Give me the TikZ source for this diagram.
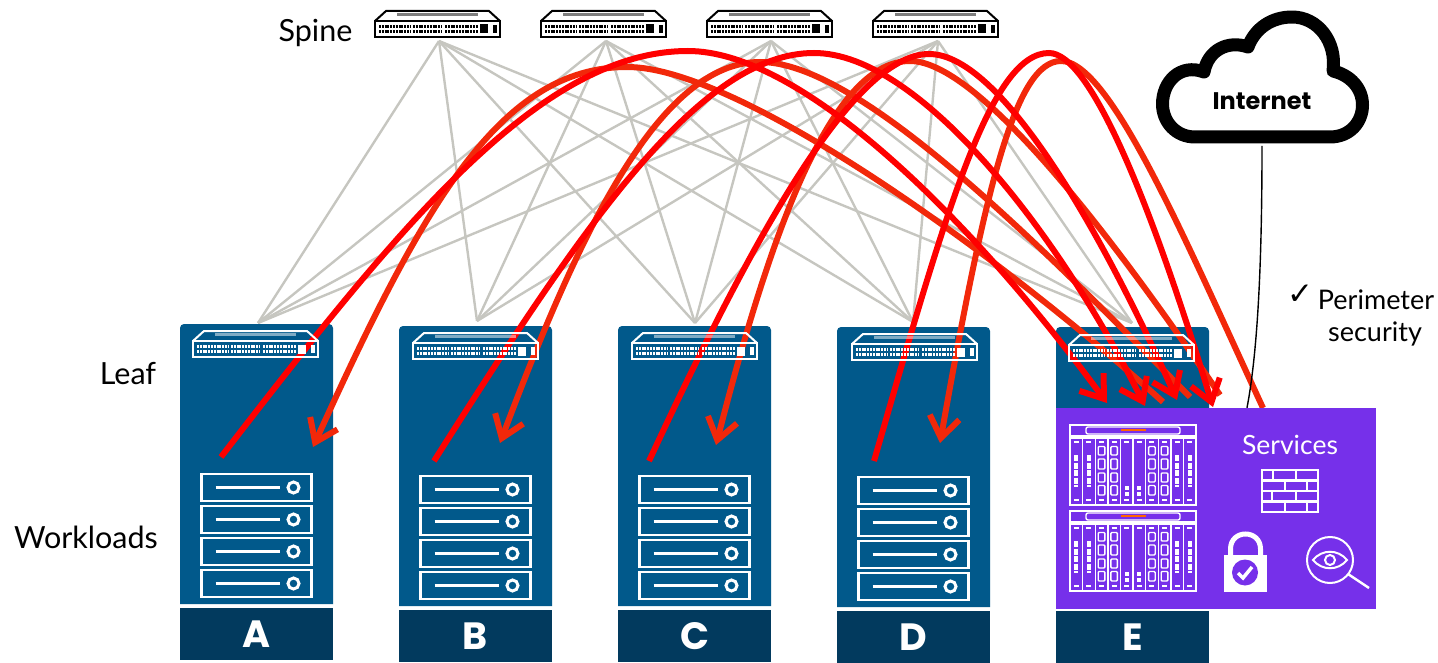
\documentclass[tikz,border=0pt]{standalone}
\usepackage{fontspec}
\setmainfont{Lato}
\newfontfamily\tagfont{Poppins}
\newfontfamily\symfont{DejaVu Sans}
\usetikzlibrary{arrows.meta}
\definecolor{rackblue}{HTML}{01598B}
\definecolor{tagblue}{HTML}{023A5E}
\definecolor{servpurple}{HTML}{7630EA}
\definecolor{fabricgrey}{HTML}{C6C6C0}
\definecolor{flowred}{HTML}{FF0000}
\definecolor{floworange}{HTML}{F2280A}
\tikzset{
    fabric/.style={fabricgrey, line width=2.4pt},
    flowout/.style={flowred, line width=6pt},
    flowback/.style={floworange, line width=6pt},
    flowtip/.style={-{Straight Barb[length=21pt,width=30pt,line width=6pt]}},
    sidelabel/.style={font=\fontsize{30.5}{34}\selectfont, inner sep=0pt},
    racktag/.style={fill=tagblue, text=white, minimum width=153pt, minimum height=52pt, inner sep=0pt, font=\fontsize{38}{40}\selectfont\tagfont\bfseries},
    pics/switch/.style={code={
        \draw[#1, line width=2pt] (0,11) rectangle (125,27);
        \draw[#1, line width=2pt] (0,11) -- (11,1) -- (114,1) -- (125,11);
        \draw[#1, opacity=.5, line width=2.5pt] (22,4.5) -- (103,4.5);
        \foreach \r in {16.5,21.5} {
            \draw[#1, line width=3.5pt, dash pattern=on 2pt off .8pt] (4,\r) -- (36,\r);
            \draw[#1, line width=3.5pt, dash pattern=on 2pt off .8pt] (38,\r) -- (67,\r);
            \draw[#1, line width=3.5pt, dash pattern=on 2pt off .8pt] (70,\r) -- (103,\r);
        }
        \fill[#1] (105,14.5) rectangle (113,23.5);
        \fill[#1] (118,15) rectangle (122,23);
    }},
    pics/server/.style={code={
        \draw[white, line width=2.4pt] (0,0) rectangle (110,27);
        \draw[white, line width=2.4pt] (14,13.5) -- (78,13.5);
        \draw[white, line width=3pt] (92,13.5) circle[radius=5.5];
    }},
    pics/chassis/.style={code={
        \draw[white, line width=1.6pt] (0,0) rectangle (126,11);
        \draw[white, line width=1.4pt, rounded corners=2pt] (16,2) rectangle (110,9);
        \draw[orange!80!red, line width=1.8pt] (51,5) -- (76,5);
        \draw[white, line width=1.8pt] (0,13) rectangle (126,80);
        \foreach \s in {1,...,9}
            \draw[white, line width=1.4pt] (12.6*\s,13) -- (12.6*\s,80);
        \foreach \s in {0,...,9} {
            \draw[white, line width=1.4pt] (3.8+12.6*\s,17) -- (8.8+12.6*\s,17);
            \draw[white, line width=1.4pt] (3.8+12.6*\s,75) -- (8.8+12.6*\s,75);
        }
        \foreach \s in {0,1,8,9}
            \draw[white, line width=4pt, dash pattern=on 6pt off 1.5pt] (6.3+12.6*\s,30) -- (6.3+12.6*\s,62);
        \foreach \s in {2,3,6,7}
            \foreach \t/\b in {21.5/30,34/44,48/57,60.5/70}
                \draw[white, line width=1.4pt, rounded corners=1pt] (3+12.6*\s,\t) rectangle (9.6+12.6*\s,\b);
        \foreach \s in {4,5}
            \foreach \t in {63,69}
                \fill[white] (4.3+12.6*\s,\t-2) rectangle (8.3+12.6*\s,\t+2);
    }}
}
\begin{document}
\begin{tikzpicture}[x=1pt,y=-1pt]
    \useasboundingbox (0,0) rectangle (1438,663);

    % fabric
    \coordinate (spine1) at (439,41);
    \coordinate (spine2) at (606,41);
    \coordinate (spine3) at (771,41);
    \coordinate (spine4) at (938,41);
    \coordinate (leafA) at (258,323);
    \coordinate (leafB) at (477,321);
    \coordinate (leafC) at (695,323);
    \coordinate (leafD) at (913,322);
    \coordinate (leafE) at (1132,323);
    \foreach \s in {1,2,3,4}
        \foreach \l in {A,B,C,D,E}
            \draw[fabric] (spine\s) -- (leaf\l);

    \foreach \x in {375,541,707,873}
        \path (\x,10) pic {switch=black};

    % racks
    \foreach \n/\x/\y in {A/180/324,B/399/326,C/618/326,D/837/327,E/1056/327} {
        \fill[rackblue, rounded corners=4pt] (\x,\y+280) [sharp corners] -- (\x,\y+280) [rounded corners=4pt] -- (\x,\y) -- (\x+153,\y) [sharp corners] -- (\x+153,\y+280) -- cycle;
        \node[racktag] (tag\n) at (\x+76.5,\y+310) {\n};
        \foreach \i in {0,1,2,3}
            \path (\x+21.5,\y+150+32*\i) pic {server};
    }

    % flows
    \coordinate (outA) at (221,457);
    \coordinate (outB) at (434,461);
    \coordinate (outC) at (649,461);
    \coordinate (outD) at (874,461);
    \coordinate (inA) at (1107,403);
    \coordinate (inB) at (1145,406);
    \coordinate (inC) at (1177,400);
    \coordinate (inD) at (1213,407);
    \coordinate (backA) at (1163,402);
    \coordinate (backB) at (1190,397);
    \coordinate (backC) at (1220,395);
    \coordinate (backD) at (1263,408);
    \coordinate (tipA) at (313,447);
    \coordinate (tipB) at (500,443);
    \coordinate (tipC) at (716,445);
    \coordinate (tipD) at (940,443);

    \draw[flowback, flowtip] (backA) .. controls (1000,255) and (740,67) .. (627,67) .. controls (500,67) and (423,205) .. (tipA);
    \draw[flowback, flowtip] (backB) .. controls (1040,245) and (860,62) .. (760,62) .. controls (660,62) and (580,230) .. (tipB);
    \draw[flowback, flowtip] (backC) .. controls (1135,270) and (985,61) .. (910,61) .. controls (835,61) and (775,215) .. (tipC);
    \draw[flowback, flowtip] (backD) .. controls (1185,240) and (1110,61) .. (1061,61) .. controls (1015,61) and (985,190) .. (tipD);
    \draw[flowout, flowtip] (outA) .. controls (400,225) and (540,51) .. (688,51) .. controls (800,51) and (967,213) .. (inA);
    \draw[flowout, flowtip] (outB) .. controls (584,224) and (700,53) .. (814,53) .. controls (920,53) and (1060,235) .. (inB);
    \draw[flowout, flowtip] (outC) .. controls (745,255) and (850,54) .. (929,54) .. controls (1005,54) and (1110,250) .. (inC);
    \draw[flowout, flowtip] (outD) .. controls (945,215) and (990,53) .. (1049,53) .. controls (1090,53) and (1150,200) .. (inD);

    \foreach \x/\y in {193/330,413/332,632/332,852/333,1069/334}
        \path (\x,\y) pic {switch=white};

    % internet
    \draw[line width=13pt, line join=round] (1195,137) -- (1330,137) .. controls (1350,137) and (1362.5,122) .. (1362.5,105) .. controls (1362.5,88) and (1350,75) .. (1333,71) .. controls (1337,42) and (1318,17) .. (1292,17) .. controls (1272,17) and (1255,28) .. (1248,47) .. controls (1228,40) and (1208,50) .. (1204,72) .. controls (1180,63) and (1162.5,82) .. (1162.5,104) .. controls (1162.5,122) and (1176,137) .. (1195,137) -- cycle;
    \node[inner sep=0pt, font=\fontsize{24}{30}\selectfont\tagfont\bfseries] (internet) at (1262,101) {Internet};
    \coordinate (cloudfoot) at (1262,146);

    % services
    \node[fill=servpurple, minimum width=320pt, minimum height=201pt, inner sep=0pt] (services) at (1216,508.5) {};
    \draw[line width=1.4pt] (cloudfoot) .. controls (1262,260) and (1258,350) .. ([xshift=31pt]services.north);
    \path (1070,425) pic {chassis};
    \path (1070,511) pic {chassis};
    \node[sidelabel, text=white, font=\fontsize{26.5}{30}\selectfont] (servicename) at (1290,445) {Services};

    \draw[white, line width=2.2pt] (1262,470) rectangle (1318,512);
    \foreach \r in {480.5,491,501.5}
        \draw[white, line width=2.2pt] (1262,\r) -- (1318,\r);
    \foreach \x/\t/\b in {1273/470/480.5,1296/470/480.5,1285/480.5/491,1307/480.5/491,1272/491/501.5,1296/491/501.5,1285/501.5/512,1307/501.5/512}
        \draw[white, line width=2.2pt] (\x,\t) -- (\x,\b);

    \fill[white] (1224,555) rectangle (1267,592);
    \draw[white, line width=5pt] (1230.5,556) -- (1230.5,549) .. controls (1230.5,529) and (1260.5,529) .. (1260.5,549) -- (1260.5,556);
    \fill[servpurple] (1245,572.5) circle[radius=13];
    \draw[white, line width=3.5pt] (1238,573) -- (1243,578) -- (1252,567);

    \draw[white, line width=2pt] (1330,560) circle[radius=23];
    \draw[white, line width=2.4pt] (1348,574) -- (1369,588);
    \draw[white, line width=2pt] (1313,560) .. controls (1322,549) and (1338,549) .. (1347,560) .. controls (1338,571) and (1322,571) .. cycle;
    \draw[white, line width=2pt] (1330,560) circle[radius=5];

    % labels
    \node[sidelabel] (spinelabel) at (315.5,33) {Spine};
    \node[sidelabel] (leaflabel) at (128,374) {Leaf};
    \node[sidelabel] (workloadlabel) at (86,537) {Workloads};
    \node[sidelabel, font=\fontsize{31}{34}\selectfont\symfont] (perimetercheck) at (1300,295) {✓};
    \node[sidelabel, font=\fontsize{27}{32}\selectfont] (perimeterlabel) at (1376,300) {Perimeter};
    \node[sidelabel, font=\fontsize{27}{32}\selectfont] (securitylabel) at (1375,334) {security};
\end{tikzpicture}
\end{document}
